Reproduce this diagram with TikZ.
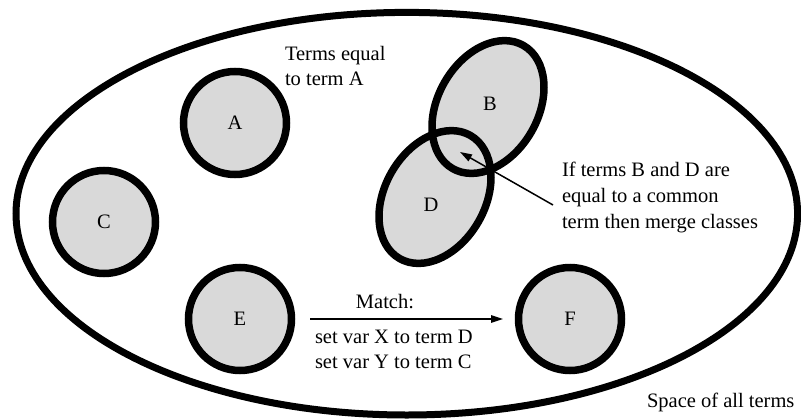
\documentclass[tikz,border=0pt]{standalone}
\usepackage{fontspec}
\setmainfont{Liberation Serif}
\usetikzlibrary{shapes.geometric,arrows.meta}
\definecolor{termfill}{RGB}{217,217,217}
\begin{document}
\begin{tikzpicture}[x=1pt,y=-1pt,
  every node/.style={font=\fontsize{20.5}{25}\selectfont, inner sep=0pt, outer sep=0pt},
  space/.style={ellipse, draw, line width=7pt, minimum width=781.6pt, minimum height=402.6pt},
  termclass/.style={circle, draw, fill=termfill, line width=7.5pt, minimum size=103pt},
  blobfill/.style={ellipse, fill=termfill, minimum width=100pt, minimum height=142pt, rotate=-30},
  blobline/.style={ellipse, draw, line width=7.5pt, minimum width=100pt, minimum height=142pt, rotate=-30},
  txt/.style={anchor=base west},
  pointer/.style={line width=1.5pt, -{Triangle[length=12pt,width=7.5pt]}}
]
\useasboundingbox (0,0) rectangle (801,418);
\node[space] (S) at (406.8,213.7) {};
% classes
\node[termclass] (A) at (235,123) {A};
\node[termclass] (C) at (104,222) {C};
\node[termclass] (E) at (240,319) {E};
\node[termclass] (F) at (570,319) {F};
% merging classes B and D
\node[blobfill] (Bf) at (488,107) {};
\node[blobfill] (Df) at (435,197) {};
\node[blobline] (B) at (488,107) {};
\node[blobline] (D) at (435,197) {};
\node (Blab) at (490,104) {B};
\node (Dlab) at (431,205) {D};
% texts
\node[txt] (t1) at (285,60) {Terms equal};
\node[txt] (t2) at (285,85) {to term A};
\node[txt] (m1) at (562,176) {If terms B and D are};
\node[txt] (m2) at (562,202) {equal to a common};
\node[txt] (m3) at (562,228) {term then merge classes};
\node[anchor=base] (match) at (385,308) {Match:};
\node[txt] (s1) at (315,343) {set var X to term D};
\node[txt] (s2) at (315,368) {set var Y to term C};
\node[txt] (space) at (647,407) {Space of all terms};
% connectors
\coordinate (mergefrom) at (553,205);
\coordinate (mergeto) at (460,152);
\draw[pointer] (mergefrom) -- (mergeto);
\coordinate (matchfrom) at (310,319);
\coordinate (matchto) at (503,319);
\draw[pointer] (matchfrom) -- (matchto);
\end{tikzpicture}
\end{document}
